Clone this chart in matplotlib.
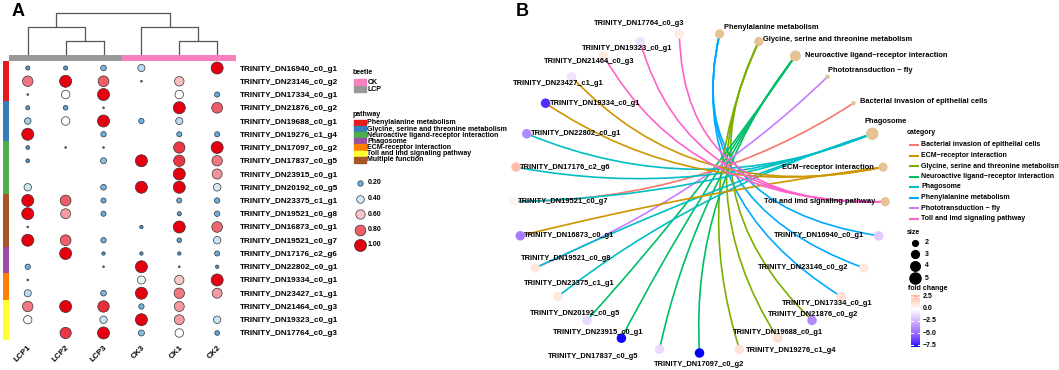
import numpy as np
import matplotlib
matplotlib.use('Agg')
import matplotlib.pyplot as plt
import matplotlib.transforms as mtrans
from matplotlib.colors import LinearSegmentedColormap, Normalize, ListedColormap
from matplotlib.patches import Rectangle, PathPatch
from matplotlib.path import Path

plt.rcParams['font.family'] = ['Liberation Sans', 'DejaVu Sans']
plt.rcParams['font.weight'] = 'bold'

# ---------------- data ----------------
samples = ['LCP1', 'LCP2', 'LCP3', 'CK3', 'CK1', 'CK2']
sample_group = ['LCP', 'LCP', 'LCP', 'CK', 'CK', 'CK']
genes = ['TRINITY_DN16940_c0_g1', 'TRINITY_DN23146_c0_g2', 'TRINITY_DN17334_c0_g1',
         'TRINITY_DN21876_c0_g2', 'TRINITY_DN19688_c0_g1', 'TRINITY_DN19276_c1_g4',
         'TRINITY_DN17097_c0_g2', 'TRINITY_DN17837_c0_g5', 'TRINITY_DN23915_c0_g1',
         'TRINITY_DN20192_c0_g5', 'TRINITY_DN23375_c1_g1', 'TRINITY_DN19521_c0_g8',
         'TRINITY_DN16873_c0_g1', 'TRINITY_DN19521_c0_g7', 'TRINITY_DN17176_c2_g6',
         'TRINITY_DN22802_c0_g1', 'TRINITY_DN19334_c0_g1', 'TRINITY_DN23427_c1_g1',
         'TRINITY_DN21464_c0_g3', 'TRINITY_DN19323_c0_g1', 'TRINITY_DN17764_c0_g3']
gene_pathway = (['Phenylalanine metabolism'] * 3 + ['Glycine, serine and threonine metabolism'] * 3 +
                ['Neuroactive ligand-receptor interaction'] * 4 + ['Multiple function'] * 4 +
                ['Phagosome'] * 2 + ['ECM-receptor interaction'] * 2 + ['Toll and Imd signaling pathway'] * 3)
pathways = ['Phenylalanine metabolism', 'Glycine, serine and threonine metabolism',
            'Neuroactive ligand-receptor interaction', 'Phagosome', 'ECM-receptor interaction',
            'Toll and Imd signaling pathway', 'Multiple function']
n = np.nan
# rows = genes, cols = samples (scaled expression 0..1)
expr = np.array([
    [0.12, 0.12, 0.22, 0.35, n, 1.00],
    [0.75, 1.00, 0.80, 0.02, 0.62, n],
    [0.02, 0.50, 1.00, n, 0.50, 0.18],
    [0.12, 0.15, 0.02, n, 1.00, 0.80],
    [0.30, 0.50, 1.00, 0.20, 0.35, n],
    [1.00, n, 0.20, n, 0.18, 0.18],
    [0.10, 0.02, 0.02, n, 0.88, 1.00],
    [0.10, n, 0.25, 1.00, 0.88, 0.75],
    [n, n, n, n, 1.00, 0.70],
    [0.38, n, 0.22, 1.00, 1.00, 0.40],
    [1.00, 0.80, 0.18, n, 0.18, 0.20],
    [1.00, 0.68, 0.18, n, 0.12, 0.20],
    [0.02, n, n, 0.08, 1.00, 0.78],
    [1.00, 0.80, 0.20, n, 0.15, 0.38],
    [n, 1.00, 0.08, 0.08, 0.08, 0.18],
    [0.20, n, 0.02, 1.00, 0.02, 0.08],
    [0.02, n, n, 0.45, 0.60, 1.00],
    [0.35, n, 0.22, 1.00, 0.75, 0.68],
    [0.75, 1.00, 0.90, 0.20, 0.68, n],
    [0.48, n, 0.38, 1.00, 0.68, 0.38],
    [n, 0.88, 1.00, 0.25, 0.50, 0.15],
])
size_legend_vals = [0.20, 0.40, 0.60, 0.80, 1.00]
# dendrogram merges (left, right, height)
dendro_merges = [('LCP2', 'LCP3', 1.0), ('LCP1', 'm0', 2.0), ('CK1', 'CK2', 1.0),
                 ('CK3', 'm2', 2.0), ('m1', 'm3', 3.0)]

# network (panel B)
categories = ['Phenylalanine metabolism', 'Glycine, serine and threonine metabolism',
              'Neuroactive ligand-receptor interaction', 'Phototransduction - fly',
              'Bacterial invasion of epithelial cells', 'Phagosome', 'ECM-receptor interaction',
              'Toll and Imd signaling pathway']
category_size = [3, 3, 4, 1, 1, 5, 3, 3]
category_genes = {
    'Phenylalanine metabolism': ['TRINITY_DN16940_c0_g1', 'TRINITY_DN23146_c0_g2', 'TRINITY_DN17334_c0_g1'],
    'Glycine, serine and threonine metabolism': ['TRINITY_DN21876_c0_g2', 'TRINITY_DN19688_c0_g1', 'TRINITY_DN19276_c1_g4'],
    'Neuroactive ligand-receptor interaction': ['TRINITY_DN17097_c0_g2', 'TRINITY_DN17837_c0_g5', 'TRINITY_DN23915_c0_g1', 'TRINITY_DN20192_c0_g5'],
    'Phototransduction - fly': ['TRINITY_DN19521_c0_g8'],
    'Bacterial invasion of epithelial cells': ['TRINITY_DN19521_c0_g7'],
    'Phagosome': ['TRINITY_DN17176_c2_g6', 'TRINITY_DN22802_c0_g1', 'TRINITY_DN19521_c0_g7', 'TRINITY_DN19521_c0_g8', 'TRINITY_DN23375_c1_g1'],
    'ECM-receptor interaction': ['TRINITY_DN19334_c0_g1', 'TRINITY_DN23427_c1_g1', 'TRINITY_DN16873_c0_g1'],
    'Toll and Imd signaling pathway': ['TRINITY_DN21464_c0_g3', 'TRINITY_DN19323_c0_g1', 'TRINITY_DN17764_c0_g3'],
}
fold_change = [-1.8, 1.0, 1.2, -4.0, 1.3, 1.3, -7.9, -1.2, -7.8, -1.2, 1.0, 1.0,
               -4.5, 0.5, 2.7, -4.0, -7.0, -1.0, 0.9, -1.0, 0.8]
legend_categories = ['Bacterial invasion of epithelial cells', 'ECM-receptor interaction',
                     'Glycine, serine and threonine metabolism', 'Neuroactive ligand-receptor interaction',
                     'Phagosome', 'Phenylalanine metabolism', 'Phototransduction - fly',
                     'Toll and Imd signaling pathway']
size_legend_counts = [2, 3, 4, 5]
fc_ticks = [2.5, 0.0, -2.5, -5.0, -7.5]
fc_range = (-7.9, 2.9)

# ---------------- styles ----------------
group_colors = {'LCP': '#999999', 'CK': '#F781BF'}
pathway_colors = {'Phenylalanine metabolism': '#E41A1C', 'Glycine, serine and threonine metabolism': '#377EB8',
                  'Neuroactive ligand-receptor interaction': '#4DAF4A', 'Phagosome': '#984EA3',
                  'ECM-receptor interaction': '#FF7F00', 'Toll and Imd signaling pathway': '#FFFF33',
                  'Multiple function': '#A65628'}
cat_colors = {'Bacterial invasion of epithelial cells': '#F8766D', 'ECM-receptor interaction': '#CD9600',
              'Glycine, serine and threonine metabolism': '#7CAE00', 'Neuroactive ligand-receptor interaction': '#00BE67',
              'Phagosome': '#00BFC4', 'Phenylalanine metabolism': '#00A9FF', 'Phototransduction - fly': '#C77CFF',
              'Toll and Imd signaling pathway': '#FF61CC'}
expr_cmap = LinearSegmentedColormap.from_list('expr', [
    (0.0, '#2C7BB6'), (0.2, '#6AB2E2'), (0.4, '#D4E9F7'), (0.5, '#FFFFFF'),
    (0.6, '#FAC6CB'), (0.8, '#EE5D68'), (1.0, '#E5000F')])

# Lab interpolated blue-white-red for fold change
M = np.array([[0.4124, 0.3576, 0.1805], [0.2126, 0.7152, 0.0722], [0.0193, 0.1192, 0.9505]])
WP = np.array([0.95047, 1.0, 1.08883])
def _s2l(c): return np.where(c <= 0.04045, c / 12.92, ((c + 0.055) / 1.055) ** 2.4)
def _l2s(c):
    c = np.clip(c, 0, None)
    return np.where(c <= 0.0031308, 12.92 * c, 1.055 * np.power(c, 1 / 2.4) - 0.055)
def rgb2lab(rgb):
    xyz = M @ _s2l(np.asarray(rgb, float)) / WP
    f = np.where(xyz > 0.008856, np.cbrt(xyz), 7.787 * xyz + 16 / 116)
    return np.array([116 * f[1] - 16, 500 * (f[0] - f[1]), 200 * (f[1] - f[2])])
def lab2rgb(lab):
    L, a, b = lab
    fy = (L + 16) / 116; fx = fy + a / 500; fz = fy - b / 200
    f = np.array([fx, fy, fz])
    xyz = np.where(f ** 3 > 0.008856, f ** 3, (f - 16 / 116) / 7.787) * WP
    return np.clip(_l2s(np.linalg.solve(M, xyz)), 0, 1)
lab_lo, lab_mid, lab_hi = rgb2lab([0, 0, 1]), rgb2lab([1, 1, 1]), rgb2lab([1, 0, 0])
cols = []
for t in np.linspace(0, 1, 257):
    if t < 0.5:
        u = t / 0.5; cols.append(lab2rgb(lab_lo + (lab_mid - lab_lo) * u))
    else:
        u = (t - 0.5) / 0.5; cols.append(lab2rgb(lab_mid + (lab_hi - lab_mid) * u))
fc_cmap = ListedColormap(cols)
mx = max(abs(fc_range[0]), abs(fc_range[1]))
fc_norm = Normalize(-mx, mx)

W, H = 1059, 370
fig = plt.figure(figsize=(W / 100, H / 100), dpi=100)
def px_axes(x0, y0, x1, y1, **kw):
    return fig.add_axes([x0 / W, 1 - y1 / H, (x1 - x0) / W, (y1 - y0) / H], **kw)

# overlay for legends
ov = px_axes(0, 0, W, H)
ov.set_xlim(0, W); ov.set_ylim(H, 0); ov.axis('off')

S1 = 75.0  # marker area (pt^2) for value 1.0

# ---------------- Panel A ----------------
axA = px_axes(8.8, 61.4, 236.1, 339.6)
axA.set_xlim(-0.5, 5.5); axA.set_ylim(len(genes) - 0.5, -0.5)
ii, jj = np.nonzero(~np.isnan(expr))
vals = expr[ii, jj]
axA.scatter(jj, ii, s=S1 * vals, c=vals, cmap=expr_cmap, vmin=0, vmax=1,
            edgecolors='#333333', linewidths=0.5, zorder=3, clip_on=False)
for sp in axA.spines.values(): sp.set_visible(False)
axA.set_xticks(range(len(samples)))
axA.set_xticklabels(samples, rotation=45, ha='right', va='top', rotation_mode='anchor',
                    fontsize=5.8, fontweight='bold')
shift = mtrans.ScaledTranslation(4 / 100, 1 / 100, fig.dpi_scale_trans)
for lab in axA.get_xticklabels():
    lab.set_transform(lab.get_transform() + shift)
axA.yaxis.tick_right()
axA.set_yticks(range(len(genes)))
axA.set_yticklabels(genes, fontsize=5.9, fontweight='bold')
axA.tick_params(length=0, pad=2.5)
axA.tick_params(axis='x', pad=3)
axA.patch.set_alpha(0)

# dendrogram
axD = px_axes(8.8, 13, 236.1, 55)
axD.set_xlim(-0.5, 5.5); axD.set_ylim(0, 3); axD.axis('off')
pos = {s: i for i, s in enumerate(samples)}; hgt = {s: 0.0 for s in samples}
for k, (l, r, h) in enumerate(dendro_merges):
    axD.plot([pos[l], pos[l], pos[r], pos[r]], [hgt[l], h, h, hgt[r]], color='#555555', lw=0.9,
             clip_on=False, solid_capstyle='butt')
    pos['m%d' % k] = (pos[l] + pos[r]) / 2; hgt['m%d' % k] = h

# annotation bar
axC = px_axes(8.8, 55, 236.1, 61.2)
axC.bar(range(len(samples)), 1, width=1, color=[group_colors[g] for g in sample_group])
axC.set_xlim(-0.5, 5.5); axC.set_ylim(0, 1); axC.axis('off')

# row sidebar
axR = px_axes(2.5, 61.4, 8.5, 339.6)
axR.barh(range(len(genes)), 1, height=1, color=[pathway_colors[p] for p in gene_pathway])
axR.set_xlim(0, 1); axR.set_ylim(len(genes) - 0.5, -0.5); axR.axis('off')

ov.text(12, 12, 'A', fontsize=13, fontweight='bold', va='center', ha='left')
ov.text(516, 12, 'B', fontsize=13, fontweight='bold', va='center', ha='left')

# legends A
fsL = 5.0
ov.text(353, 73, 'beetle', fontsize=fsL, va='center', ha='left')
for k, g in enumerate(['CK', 'LCP']):
    ov.add_patch(Rectangle((354, 79 + 6.6 * k), 12, 6.6, color=group_colors[g]))
    ov.text(368, 82.5 + 6.6 * k, g, fontsize=fsL, va='center', ha='left')
ov.text(353, 114, 'pathway', fontsize=fsL, va='center', ha='left')
for k, p in enumerate(pathways):
    ov.add_patch(Rectangle((354, 120 + 6.1 * k), 12, 6.1, color=pathway_colors[p]))
    ov.text(367, 123 + 6.1 * k, p, fontsize=fsL, va='center', ha='left')
for k, v in enumerate(size_legend_vals):
    yy = 183 + 15.5 * k
    ov.scatter([360], [yy], s=S1 * v, c=[v], cmap=expr_cmap, vmin=0, vmax=1,
               edgecolors='#333333', linewidths=0.5, zorder=3)
    ov.text(368, yy, '%.2f' % v, fontsize=fsL, va='center', ha='left')

# ---------------- Panel B ----------------
cx, cy, Rx, Ry = 699.5, 193, 186, 160
axB = px_axes(cx - Rx, cy - Ry, cx + Rx, cy + Ry)
axB.set_xlim(-1, 1); axB.set_ylim(-1, 1); axB.axis('off')
nodes = categories + genes
N = len(nodes)
theta = (np.arange(N) + 0.5) * 2 * np.pi / N
nx, ny = np.sin(theta), np.cos(theta)
idx = {nm: i for i, nm in enumerate(nodes)}
kcurve = 1.2
for c in categories:
    for g in category_genes[c]:
        p0 = np.array([nx[idx[c]], ny[idx[c]]]); p2 = np.array([nx[idx[g]], ny[idx[g]]])
        mid = (p0 + p2) / 2; ctrl = mid * (1 - kcurve)
        path = Path([p0, ctrl, p2], [Path.MOVETO, Path.CURVE3, Path.CURVE3])
        axB.add_patch(PathPatch(path, fc='none', ec=cat_colors[c], lw=1.2, clip_on=False, zorder=1))

def size_px(cnt):
    return 4.5 + 8.0 * (np.sqrt(cnt) - 1) / (np.sqrt(5) - 1)
cat_s = [(size_px(c) * 0.72) ** 2 for c in category_size]
axB.scatter(nx[:len(categories)], ny[:len(categories)], s=cat_s, color='#E5C494',
            linewidths=0, zorder=3, clip_on=False)
gene_s = (9.5 * 0.72) ** 2
axB.scatter(nx[len(categories):], ny[len(categories):], s=gene_s, c=fold_change, cmap=fc_cmap,
            norm=fc_norm, linewidths=0, zorder=3, clip_on=False)

# label offsets in px (dx, dy down, ha)
lab_off = {
    'Phenylalanine metabolism': (4, -6, 'left'), 'Glycine, serine and threonine metabolism': (4, -2, 'left'),
    'Neuroactive ligand-receptor interaction': (10, 0, 'left'), 'Phototransduction - fly': (1, -6, 'left'),
    'Bacterial invasion of epithelial cells': (7, -2, 'left'), 'Phagosome': (13, -12, 'center'),
    'ECM-receptor interaction': (-9, 0, 'right'), 'Toll and Imd signaling pathway': (-10, 0, 'right'),
    'TRINITY_DN16940_c0_g1': (-15, 0, 'right'), 'TRINITY_DN23146_c0_g2': (-15, 0, 'right'),
    'TRINITY_DN17334_c0_g1': (-14, 7, 'center'), 'TRINITY_DN21876_c0_g2': (1, -6, 'center'),
    'TRINITY_DN19688_c0_g1': (0, -6, 'center'), 'TRINITY_DN19276_c1_g4': (6, 1, 'left'),
    'TRINITY_DN17097_c0_g2': (0, 11, 'center'), 'TRINITY_DN17837_c0_g5': (-66, 7, 'center'),
    'TRINITY_DN23915_c0_g1': (-23, -6, 'center'), 'TRINITY_DN20192_c0_g5': (-12, -7, 'center'),
    'TRINITY_DN23375_c1_g1': (12, -13, 'center'), 'TRINITY_DN19521_c0_g8': (31, -9, 'center'),
    'TRINITY_DN16873_c0_g1': (4, 0, 'left'), 'TRINITY_DN19521_c0_g7': (4, 0, 'left'),
    'TRINITY_DN17176_c2_g6': (4, 0, 'left'), 'TRINITY_DN22802_c0_g1': (4, 0, 'left'),
    'TRINITY_DN19334_c0_g1': (4, 0, 'left'), 'TRINITY_DN23427_c1_g1': (-13, 7, 'center'),
    'TRINITY_DN21464_c0_g3': (-14, 6, 'center'), 'TRINITY_DN19323_c0_g1': (-13, 7, 'center'),
    'TRINITY_DN17764_c0_g3': (-40, -10, 'center'),
}
for nm in nodes:
    dx, dy, ha = lab_off[nm]
    axB.annotate(nm.replace('-', '\u2212'), (nx[idx[nm]], ny[idx[nm]]), xytext=(dx * 0.72, -dy * 0.72),
                 textcoords='offset points', ha=ha, va='center', fontsize=5.4, fontweight='bold',
                 zorder=5, annotation_clip=False)

# legends B
ov.text(907, 133, 'category', fontsize=fsL, va='center', ha='left')
for k, c in enumerate(legend_categories):
    yy = 145 + 10.5 * k
    ov.plot([909, 919], [yy, yy], color=cat_colors[c], lw=1.5, solid_capstyle='butt')
    ov.text(921, yy, c.replace('-', '\u2212'), fontsize=fsL, va='center', ha='left')
ov.text(907, 232, 'size', fontsize=fsL, va='center', ha='left')
for k, c in enumerate(size_legend_counts):
    yy = [243, 254, 265.5, 278][k]
    ov.scatter([915], [yy], s=(size_px(c) * 0.72) ** 2, color='black', linewidths=0)
    ov.text(925, yy, str(c), fontsize=fsL, va='center', ha='left')
ov.text(908, 289, 'fold change', fontsize=fsL, va='center', ha='left')
axCB = px_axes(911, 295, 920, 347)
grad = np.linspace(fc_range[1], fc_range[0], 200).reshape(-1, 1)
axCB.imshow(grad, cmap=fc_cmap, norm=fc_norm, aspect='auto',
            extent=[0, 1, fc_range[0], fc_range[1]], origin='upper')
axCB.set_xlim(0, 1); axCB.set_ylim(fc_range[0], fc_range[1]); axCB.axis('off')
for t in fc_ticks:
    axCB.plot([0, 0.2], [t, t], color='white', lw=0.8)
    axCB.plot([0.8, 1], [t, t], color='white', lw=0.8)
    axCB.text(1.35, t, '%.1f' % t if t >= 0 else '\u2212%.1f' % (-t), fontsize=fsL, va='center',
              ha='left', transform=axCB.transData, clip_on=False)

fig.savefig('out.png', dpi=100)
